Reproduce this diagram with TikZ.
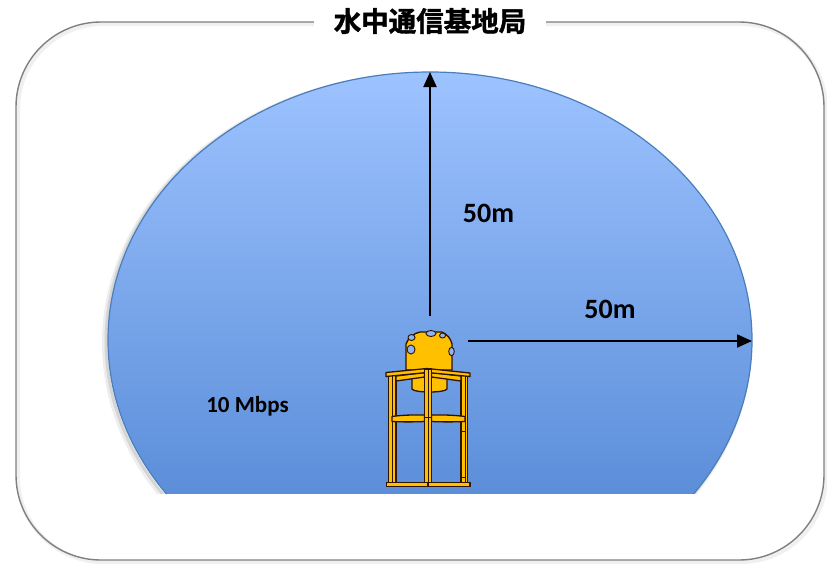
\documentclass[tikz,border=0pt]{standalone}
\usepackage{fontspec}
\setmainfont{Carlito}
\newfontfamily\cjk{Noto Sans CJK JP}[BoldFont={Noto Sans CJK JP Bold}, BoldFeatures={FakeBold=1.4}]
\usetikzlibrary{arrows.meta}

\definecolor{frameGray}{HTML}{808080}
\definecolor{seaTop}{HTML}{9DC3FF}
\definecolor{seaBottom}{HTML}{4A80CF}
\definecolor{seaEdge}{HTML}{4A7EBB}
\definecolor{towerY}{HTML}{FFC000}
\definecolor{towerD}{HTML}{2E1204}
\definecolor{portBlue}{HTML}{8FB4F0}

\tikzset{
  outerframe/.style={draw=frameGray, line width=1.4pt, rounded corners=85pt},
  rangearrow/.style={-{Triangle[length=15pt,width=13pt]}, line width=2pt, black},
  distlabel/.style={font=\bfseries\fontsize{28}{32}\selectfont, text=black},
  ratelabel/.style={font=\bfseries\fontsize{23}{27}\selectfont, text=black},
  towerpart/.style={fill=towerY, draw=towerD, line width=1.3pt, line join=round},
  towerseam/.style={draw=towerD, line width=1pt},
  towerport/.style={fill=portBlue, draw=towerD, line width=0.9pt},
}

\begin{document}
\begin{tikzpicture}[x=1pt,y=-1pt]
\useasboundingbox (0,0) rectangle (827,563);

% outer frame with a soft shadow
\draw[frameGray!30, line width=4pt, opacity=0.4, rounded corners=85pt]
  (18,24) rectangle (826,562);
\draw[outerframe] (16,22) rectangle (824,560);

% coverage area, cut off at the sea floor
\begin{scope}
  \clip (0,0) rectangle (827,493);
  \draw[black!20, line width=6pt, opacity=0.35] (427,343) ellipse [x radius=322pt, y radius=268pt];
  \draw[black!30, line width=3pt, opacity=0.4] (428,342) ellipse [x radius=322pt, y radius=268pt];
  \shade[top color=seaTop, bottom color=seaBottom]
    (430,340) ellipse [x radius=322pt, y radius=268pt];
  \draw[seaEdge, line width=1.2pt] (430,340) ellipse [x radius=322pt, y radius=268pt];
\end{scope}

% title over the frame
\node[fill=white, inner xsep=20pt, inner ysep=2pt,
      font=\cjk\bfseries\fontsize{27.5}{31}\selectfont] (title) at (430,21) {水中通信基地局};

% range arrows
\coordinate (vbase) at (430,316);
\coordinate (vtip) at (430,72);
\coordinate (hbase) at (468,341);
\coordinate (htip) at (752,341);
\draw[rangearrow] (vbase) -- (vtip);
\draw[rangearrow] (hbase) -- (htip);

\node[distlabel] (vlabel) at (488.5,213) {50m};
\node[distlabel] (hlabel) at (610,309) {50m};
\node[ratelabel] (rate) at (247.5,406) {10 Mbps};

% ---- base station tower ----
% dome and body
\draw[towerpart] (406,370) -- (406,344)
  .. controls (408,338) and (414,333) .. (420,332) -- (442,332)
  .. controls (447,334) and (451,339) .. (452,344) -- (452,370) -- cycle;
\draw[towerport] (411.5,337.5) ellipse [x radius=3.5pt, y radius=3pt];
\draw[towerport] (431,333.5) ellipse [x radius=5pt, y radius=3pt];
\draw[towerport] (442.5,335.5) ellipse [x radius=3pt, y radius=2.5pt];
\draw[towerport] (411,349.5) ellipse [x radius=4pt, y radius=4.5pt];
\draw[towerport] (451.5,351.5) ellipse [x radius=2.8pt, y radius=4.2pt];

% lower cylinder
\draw[towerpart] (412,373) -- (412,389) .. controls (414,393) and (445,393) .. (447,389) -- (447,373) -- cycle;

% side posts
\draw[towerpart] (388.5,374) rectangle (396,482.5);
\draw[towerseam] (392.2,374) -- (392.2,482.5);
\draw[towerpart] (461,374) rectangle (467.5,482.5);
\draw[towerseam] (465,374) -- (465,482.5);
\draw[towerseam] (461,431) -- (465,431);
\draw[towerseam] (461,477) -- (465,477);

% top frame: back bars and front bar
\draw[towerpart] (396,376) -- (424.5,372.5) -- (424.5,377) -- (396,381) -- cycle;
\draw[towerpart] (431.5,372.5) -- (461,376) -- (461,381) -- (431.5,377) -- cycle;
\draw[towerpart] (386,372.5) -- (427,368.5) -- (470,373) -- (470,376.5) -- (427,372.5) -- (386,376.5) -- cycle;

% middle ring
\draw[towerpart] (392,416.5) .. controls (402,415) and (414,414.8) .. (424.5,415)
  -- (424.5,421.5) .. controls (414,422) and (402,422) .. (392,421.5) -- cycle;
\draw[towerpart] (431.5,415) .. controls (442,414.8) and (454,415) .. (465,416.5)
  -- (465,421.5) .. controls (454,422) and (442,422) .. (431.5,421.5) -- cycle;

% centre post
\draw[towerpart] (424.5,369) rectangle (431.5,482.5);
\draw[towerseam] (428,369) -- (428,482.5);
\draw[towerseam] (424.5,417.5) -- (431.5,417.5);

% bottom ring
\draw[towerpart] (386.5,482.3) rectangle (428,486.7);
\draw[towerpart] (428,482.3) rectangle (470,486.7);
\end{tikzpicture}
\end{document}
